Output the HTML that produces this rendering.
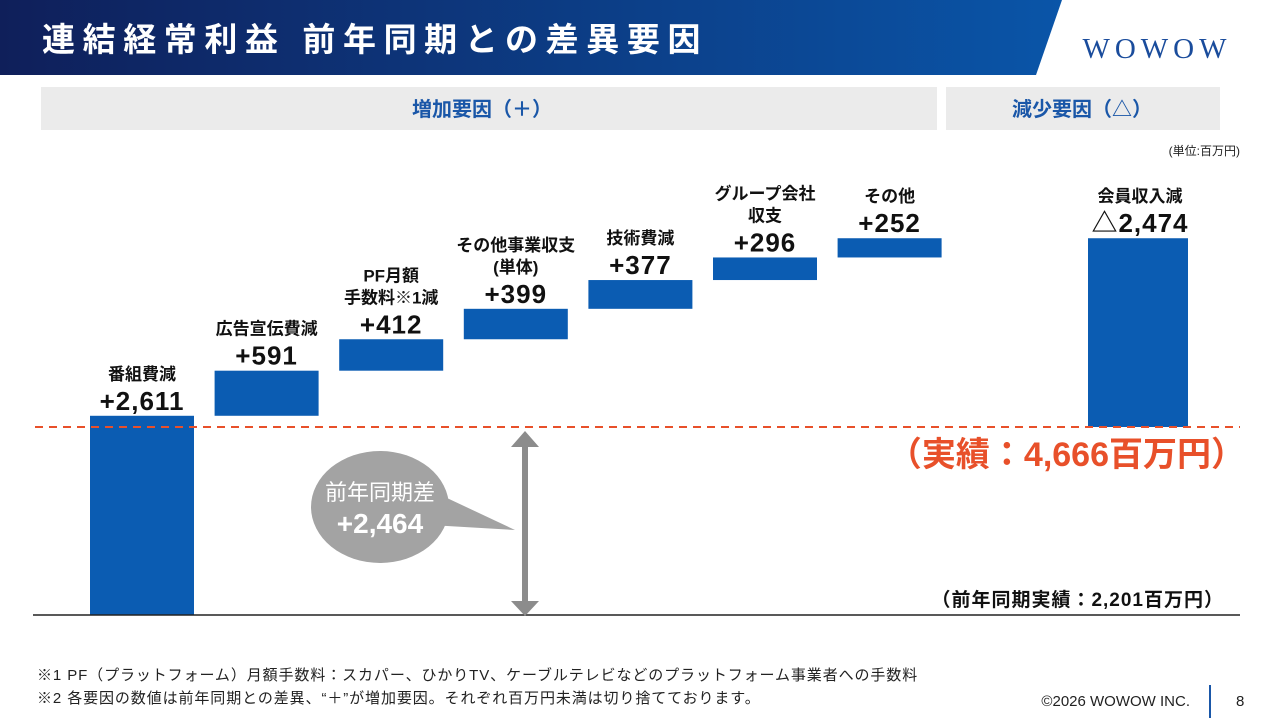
<!DOCTYPE html>
<html><head><meta charset="utf-8">
<style>
body{margin:0;width:1280px;height:720px;overflow:hidden;background:#fff;font-family:"Liberation Sans","Noto Sans CJK JP",sans-serif;position:relative}
.abs{position:absolute}
</style></head>
<body>
<svg class="abs" style="left:0;top:0" width="1280" height="720">
<defs><linearGradient id="hg" x1="0" x2="1"><stop offset="0" stop-color="#0f1f5a"/><stop offset="1" stop-color="#0a55a8"/></linearGradient></defs>
<polygon points="0,0 1062,0 1036,75 0,75" fill="url(#hg)"/>
<text x="42" y="51" font-size="33" font-weight="bold" fill="#fff" letter-spacing="7.6" font-family="Liberation Sans, Noto Sans CJK JP, sans-serif">連結経常利益 前年同期との差異要因</text>
<text x="1157" y="58" font-size="29" fill="#1a4c9c" text-anchor="middle" letter-spacing="5" font-family="Liberation Serif, serif">WOWOW</text>
<rect x="41" y="87" width="896" height="43" fill="#ebebeb"/>
<rect x="946" y="87" width="274" height="43" fill="#ebebeb"/>
<text x="482" y="116" font-size="20" font-weight="bold" fill="#1a57a8" text-anchor="middle">増加要因（＋）</text>
<text x="1082" y="116" font-size="20" font-weight="bold" fill="#1a57a8" text-anchor="middle">減少要因（△）</text>
<text x="1240" y="155" font-size="12" fill="#222" text-anchor="end">(単位:百万円)</text>
<g id="chart"></g>
<line x1="33" y1="615" x2="1240" y2="615" stroke="#222" stroke-width="1.5"/>
<line x1="35" y1="427" x2="1240" y2="427" stroke="#e8502a" stroke-width="2" stroke-dasharray="8,6"/>
<g>
<line x1="525" y1="445" x2="525" y2="603" stroke="#8c8c8c" stroke-width="6"/>
<polygon points="511,447 539,447 525,431" fill="#8c8c8c"/>
<polygon points="511,601 539,601 525,616" fill="#8c8c8c"/>
</g>
<g>
<polygon points="430,490 515,530 430,525" fill="#a3a3a3"/>
<ellipse cx="380" cy="507" rx="69" ry="56" fill="#a3a3a3"/>
<text x="380" y="500" font-size="22" fill="#fff" text-anchor="middle">前年同期差</text>
<text x="380" y="533" font-size="28" font-weight="bold" fill="#fff" text-anchor="middle">+2,464</text>
</g>
<text x="1245" y="466" font-size="34" font-weight="bold" fill="#e8502a" text-anchor="end">（実績：4,666百万円）</text>
<text x="1224" y="606" font-size="19" font-weight="bold" fill="#111" text-anchor="end" letter-spacing="1">（前年同期実績：2,201百万円）</text>
<text x="37" y="680" font-size="15" fill="#222" letter-spacing="0.9">※1 PF（プラットフォーム）月額手数料：スカパー、ひかりTV、ケーブルテレビなどのプラットフォーム事業者への手数料</text>
<text x="37" y="703" font-size="15" fill="#222" letter-spacing="0.9">※2 各要因の数値は前年同期との差異、“＋”が増加要因。それぞれ百万円未満は切り捨てております。</text>
<text x="1190" y="706" font-size="15" fill="#222" text-anchor="end">©2026 WOWOW INC.</text>
<line x1="1210" y1="685" x2="1210" y2="718" stroke="#1a57a8" stroke-width="2"/>
<text x="1236" y="706" font-size="15" fill="#222">8</text>
</svg>
<script>
const categories=[["番組費減"],["広告宣伝費減"],["PF月額","手数料※1減"],["その他事業収支","(単体)"],["技術費減"],["グループ会社","収支"],["その他"],["会員収入減"]];
const valueLabels=["+2,611","+591","+412","+399","+377","+296","+252","△2,474"];
const deltas=[2611,591,412,399,377,296,252,-2474];
const baseValue=2201;
const NS="http://www.w3.org/2000/svg";
const yZero=615, pxPer=188/2464;
function y(v){return yZero-(v-baseValue)*pxPer;}
function xLeft(i){return i<7?90+i*124.6:1088;}
const g=document.getElementById('chart');
let run=baseValue;
deltas.forEach((d,i)=>{
  const a=run,b=run+d;run=b;
  const top=Math.min(y(a),y(b)),h=Math.abs(y(a)-y(b));
  const r=document.createElementNS(NS,'rect');
  r.setAttribute('x',xLeft(i));r.setAttribute('y',top);
  r.setAttribute('width',i<7?104:100);r.setAttribute('height',h);r.setAttribute('fill','#0b5cb2');
  
  
  g.appendChild(r);
  const cx=xLeft(i)+52;
  const barTop=Math.min(y(a),y(b));
  const vt=document.createElementNS(NS,'text');
  vt.setAttribute('x',cx);vt.setAttribute('y',barTop-6);vt.setAttribute('text-anchor','middle');
  vt.setAttribute('font-size','26');vt.setAttribute('font-weight','bold');vt.setAttribute('fill','#111');
  vt.setAttribute('letter-spacing','1');
  vt.textContent=valueLabels[i];
  
  
  g.appendChild(vt);
  const lines=categories[i];
  lines.forEach((ln,j)=>{
    const t=document.createElementNS(NS,'text');
    t.setAttribute('x',cx);t.setAttribute('y',barTop-36-(lines.length-1-j)*22);
    t.setAttribute('text-anchor','middle');t.setAttribute('font-size','17');t.setAttribute('font-weight','bold');t.setAttribute('fill','#111');
    t.textContent=ln;
    
    
    g.appendChild(t);
  });
});
</script>
</body></html>
